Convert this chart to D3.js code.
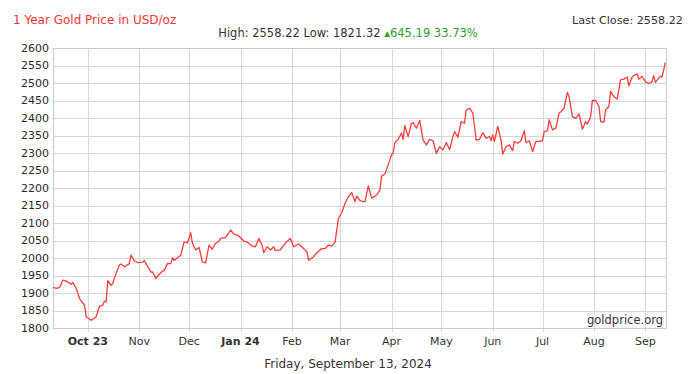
<!DOCTYPE html>
<html>
<head>
<meta charset="utf-8">
<script src="https://cdn.jsdelivr.net/npm/d3@7/dist/d3.min.js"></script>
<style>
body{margin:0;background:#fff;}
svg{display:block;font-family:"DejaVu Sans",Verdana,sans-serif;}
</style>
</head>
<body>
<svg id="chart" width="700" height="374"></svg>
<script>
// values
const dates = [
"2023-09-10","2023-09-12","2023-09-14","2023-09-16","2023-09-18","2023-09-21","2023-09-22","2023-09-24","2023-09-26","2023-09-29",
"2023-09-30","2023-10-03","2023-10-06","2023-10-08","2023-10-10","2023-10-11","2023-10-12","2023-10-13","2023-10-15","2023-10-16",
"2023-10-18","2023-10-20","2023-10-21","2023-10-23","2023-10-26","2023-10-27","2023-10-29","2023-10-31","2023-11-03","2023-11-04",
"2023-11-06","2023-11-08","2023-11-09","2023-11-11","2023-11-13","2023-11-15","2023-11-16","2023-11-18","2023-11-20","2023-11-21",
"2023-11-22","2023-11-24","2023-11-26","2023-11-28","2023-11-30","2023-12-02","2023-12-03","2023-12-05","2023-12-07","2023-12-09",
"2023-12-11","2023-12-13","2023-12-15","2023-12-17","2023-12-19","2023-12-20","2023-12-23","2023-12-26","2023-12-28","2023-12-31",
"2024-01-03","2024-01-05","2024-01-08","2024-01-10","2024-01-12","2024-01-14","2024-01-15","2024-01-17","2024-01-19","2024-01-21",
"2024-01-22","2024-01-25","2024-01-28","2024-01-31","2024-02-02","2024-02-05","2024-02-08","2024-02-10","2024-02-11","2024-02-14",
"2024-02-16","2024-02-19","2024-02-21","2024-02-23","2024-02-25","2024-02-27","2024-02-29","2024-03-02","2024-03-04","2024-03-06",
"2024-03-08","2024-03-10","2024-03-11","2024-03-13","2024-03-15","2024-03-16","2024-03-18","2024-03-20","2024-03-23","2024-03-25",
"2024-03-26","2024-03-28","2024-03-30","2024-04-01","2024-04-02","2024-04-03","2024-04-05","2024-04-07","2024-04-08","2024-04-09",
"2024-04-11","2024-04-13","2024-04-14","2024-04-16","2024-04-18","2024-04-20","2024-04-22","2024-04-24","2024-04-26","2024-04-28",
"2024-04-30","2024-05-02","2024-05-04","2024-05-06","2024-05-08","2024-05-09","2024-05-11","2024-05-13","2024-05-15","2024-05-16",
"2024-05-18","2024-05-20","2024-05-22","2024-05-24","2024-05-26","2024-05-28","2024-05-30","2024-05-31","2024-06-01","2024-06-02",
"2024-06-04","2024-06-06","2024-06-07","2024-06-09","2024-06-11","2024-06-13","2024-06-14","2024-06-16","2024-06-18","2024-06-20",
"2024-06-21","2024-06-23","2024-06-25","2024-06-27","2024-06-29","2024-07-01","2024-07-02","2024-07-04","2024-07-05","2024-07-07",
"2024-07-09","2024-07-11","2024-07-12","2024-07-14","2024-07-16","2024-07-17","2024-07-19","2024-07-21","2024-07-23","2024-07-24",
"2024-07-25","2024-07-27","2024-07-28","2024-07-30","2024-07-31","2024-08-02","2024-08-04","2024-08-05","2024-08-07","2024-08-08",
"2024-08-10","2024-08-11","2024-08-13","2024-08-15","2024-08-17","2024-08-19","2024-08-21","2024-08-22","2024-08-24","2024-08-25",
"2024-08-27","2024-08-28","2024-08-30","2024-09-01","2024-09-03","2024-09-05","2024-09-06","2024-09-07","2024-09-09","2024-09-10",
"2024-09-11","2024-09-13"
];
const prices = [
1916,1913,1916,1937,1934,1925,1930,1913,1884,1865,
1832,1822,1832,1862,1865,1877,1875,1935,1922,1927,
1956,1980,1983,1975,1984,2008,1992,1987,1988,1993,
1976,1960,1960,1941,1953,1963,1964,1984,1984,2001,
1993,2001,2008,2046,2043,2072,2042,2023,2030,1989,
1986,2037,2025,2042,2048,2056,2058,2080,2068,2063,
2048,2046,2034,2032,2056,2037,2015,2032,2023,2032,
2021,2023,2042,2056,2032,2040,2027,2018,1994,2003,
2015,2027,2027,2037,2034,2046,2113,2130,2156,2175,
2187,2161,2177,2164,2161,2161,2206,2171,2180,2194,
2234,2240,2266,2295,2299,2330,2339,2357,2339,2378,
2347,2385,2387,2371,2393,2337,2323,2339,2335,2299,
2318,2309,2330,2309,2347,2361,2345,2390,2385,2423,
2428,2414,2337,2339,2358,2342,2347,2335,2352,2333,
2376,2337,2297,2318,2323,2307,2333,2328,2335,2364,
2330,2335,2304,2333,2333,2335,2361,2364,2395,2366,
2371,2414,2418,2428,2473,2461,2404,2399,2412,2390,
2368,2390,2383,2404,2450,2450,2433,2390,2388,2423,
2433,2476,2461,2454,2509,2511,2517,2492,2517,2521,
2526,2511,2519,2504,2498,2504,2521,2502,2514,2519,
2517,2558.22
];
const monthLabels = ["Oct 23","Nov","Dec","Jan 24","Feb","Mar","Apr","May","Jun","Jul","Aug","Sep"];
const headerTitle = "1 Year Gold Price in USD/oz";
const lastClose = "Last Close: 2558.22";
const highLow = "High: 2558.22 Low: 1821.32 ";
const change = "\u25B4645.19 33.73%";
const footerDate = "Friday, September 13, 2024";

const W = 700, H = 374;
const margin = {top:48, right:33, bottom:46, left:53};
const svg = d3.select("#chart");
const parse = d3.timeParse("%Y-%m-%d");
const series = dates.map((d,i) => ({date: parse(d), value: prices[i]}));

const x = d3.scaleTime()
    .domain([parse("2023-09-10"), parse("2024-09-14")])
    .range([margin.left, W - margin.right]);
const y = d3.scaleLinear()
    .domain([1800, 2600])
    .range([H - margin.bottom, margin.top]);

const gridColor = "#d6d6d6";
const months = d3.timeMonth.range(parse("2023-10-01"), parse("2024-09-02"));

// horizontal grid
svg.append("g")
    .selectAll("line")
    .data(y.ticks(16))
    .join("line")
    .attr("x1", margin.left).attr("x2", W - margin.right)
    .attr("y1", d => Math.round(y(d)) + 0.5).attr("y2", d => Math.round(y(d)) + 0.5)
    .attr("stroke", gridColor);

// vertical grid
svg.append("g")
    .selectAll("line")
    .data(months)
    .join("line")
    .attr("x1", d => Math.round(x(d)) + 0.5).attr("x2", d => Math.round(x(d)) + 0.5)
    .attr("y1", margin.top).attr("y2", H - margin.bottom + 4)
    .attr("stroke", gridColor);

// plot frame
svg.append("rect")
    .attr("x", margin.left + 0.5).attr("y", Math.round(y(2600)) + 0.5)
    .attr("width", W - margin.right - margin.left - 1)
    .attr("height", Math.round(y(1800)) - Math.round(y(2600)))
    .attr("fill", "none").attr("stroke", "#cccccc");

// y labels
svg.append("g")
    .selectAll("text")
    .data(y.ticks(16))
    .join("text")
    .attr("x", margin.left - 4)
    .attr("y", d => y(d))
    .attr("dy", "0.36em")
    .attr("text-anchor", "end")
    .attr("font-size", 11)
    .attr("fill", "#2a2a2a")
    .text(d => d);

// x labels
svg.append("g")
    .selectAll("text")
    .data(months)
    .join("text")
    .attr("x", d => x(d))
    .attr("y", H - margin.bottom + 17)
    .attr("text-anchor", "middle")
    .attr("font-size", 11)
    .attr("font-weight", (d,i) => monthLabels[i].includes(" ") ? "bold" : "normal")
    .attr("fill", "#333")
    .text((d,i) => monthLabels[i]);

// price line
svg.append("path")
    .datum(series)
    .attr("fill", "none")
    .attr("stroke", "#ff3b3b")
    .attr("stroke-width", 1.3)
    .attr("stroke-linejoin", "round")
    .attr("d", d3.line().x(d => x(d.date)).y(d => y(d.value)));

// texts
svg.append("text")
    .attr("x", 13).attr("y", 24)
    .attr("font-size", 12).attr("fill", "#ff3333")
    .text(headerTitle);
svg.append("text")
    .attr("x", 683).attr("y", 24)
    .attr("text-anchor", "end")
    .attr("font-size", 11.2).attr("fill", "#333")
    .text(lastClose);
const sub = svg.append("text")
    .attr("x", 348).attr("y", 37)
    .attr("text-anchor", "middle")
    .attr("font-size", 11.5).attr("fill", "#333");
sub.append("tspan").text(highLow);
sub.append("tspan").attr("fill", "#2f9a2f").text(change);

svg.append("text")
    .attr("x", W - margin.right - 4).attr("y", H - margin.bottom - 4)
    .attr("text-anchor", "end")
    .attr("font-size", 11.5).attr("fill", "#333")
    .text("goldprice.org");
svg.append("text")
    .attr("x", 348).attr("y", 368)
    .attr("text-anchor", "middle")
    .attr("font-size", 12).attr("fill", "#333")
    .text(footerDate);
</script>
</body>
</html>
